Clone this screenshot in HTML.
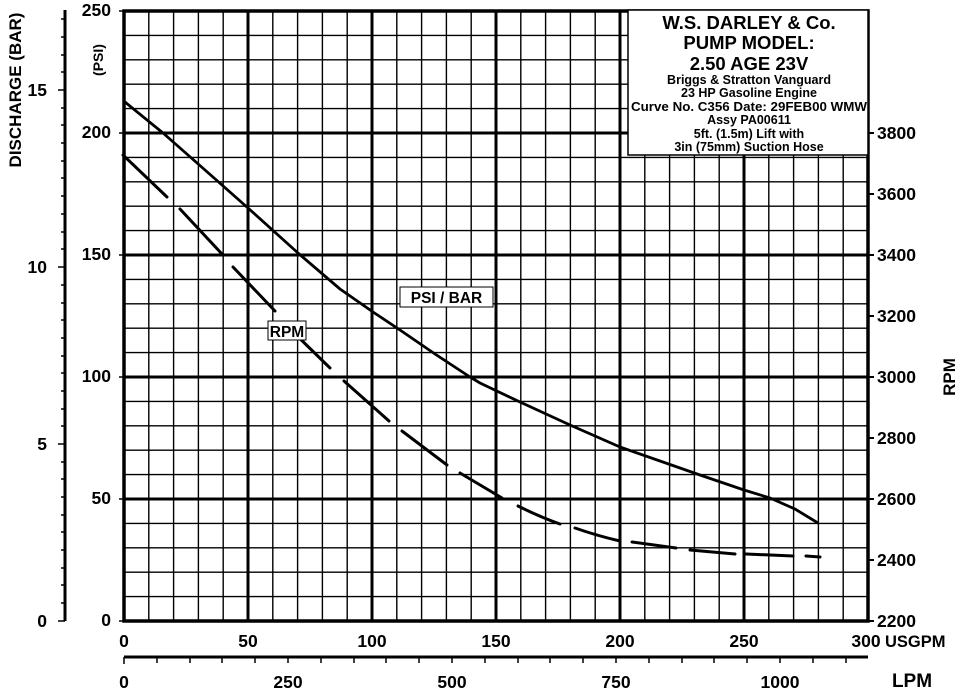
<!DOCTYPE html>
<html><head><meta charset="utf-8"><style>
html,body{margin:0;padding:0;background:#fff;}
svg{display:block;font-family:"Liberation Sans",Arial,sans-serif;font-weight:bold;}
</style></head><body>
<svg width="955" height="690" viewBox="0 0 955 690" xmlns="http://www.w3.org/2000/svg">
<rect width="955" height="690" fill="#fff"/>
<g stroke="#000">
<g stroke-width="1.4">
<path d="M148.8 11V621M173.6 11V621M198.4 11V621M223.2 11V621M272.8 11V621M297.6 11V621M322.4 11V621M347.2 11V621M396.8 11V621M421.6 11V621M446.4 11V621M471.2 11V621M520.8 11V621M545.6 11V621M570.4 11V621M595.2 11V621M644.8 11V621M669.6 11V621M694.4 11V621M719.2 11V621M768.8 11V621M793.6 11V621M818.4 11V621M843.2 11V621"/>
<path d="M124 35.4H868M124 59.8H868M124 84.2H868M124 108.6H868M124 157.4H868M124 181.8H868M124 206.2H868M124 230.6H868M124 279.4H868M124 303.8H868M124 328.2H868M124 352.6H868M124 401.4H868M124 425.8H868M124 450.2H868M124 474.6H868M124 523.4H868M124 547.8H868M124 572.2H868M124 596.6H868"/>
</g>
<g stroke-width="3">
<path d="M248 11V621M372 11V621M496 11V621M620 11V621M744 11V621"/>
<path d="M124 133H868M124 255H868M124 377H868M124 499H868"/>
</g>
<path d="M119 11H124M119 133H124M119 255H124M119 377H124M119 499H124M119 621H124" stroke-width="1.5"/>
<rect x="124" y="11" width="744" height="610" fill="none" stroke-width="3.5"/>
</g>
<!-- title box -->
<rect x="628" y="10" width="240" height="145" fill="#fff" stroke="#000" stroke-width="1.5"/>
<g text-anchor="middle" fill="#000">
<text x="749" y="29" font-size="18.5">W.S. DARLEY &amp; Co.</text>
<text x="749" y="49" font-size="18.5">PUMP MODEL:</text>
<text x="749" y="70" font-size="18.5">2.50 AGE 23V</text>
<text x="749" y="84" font-size="12.5">Briggs &amp; Stratton Vanguard</text>
<text x="749" y="97" font-size="12.5">23 HP Gasoline Engine</text>
<text x="749" y="111" font-size="12.5" textLength="236" lengthAdjust="spacingAndGlyphs">Curve No. C356 Date: 29FEB00 WMW</text>
<text x="749" y="124" font-size="12.5">Assy PA00611</text>
<text x="749" y="138" font-size="12.5">5ft. (1.5m) Lift with</text>
<text x="749" y="151" font-size="12.5">3in (75mm) Suction Hose</text>
</g>
<!-- curves -->
<path d="M125 102 L163 133 L205 170 L248 208 L298 253 L340 289 L373 312 L400 330 L435 354 L470 377 L480 383 L520 402 L570 425 L620 447 L660 461 L700 475 L744 490 L770 498 L795 509 L818 523" fill="none" stroke="#000" stroke-width="2.8" stroke-linejoin="round"/>
<g stroke="#000" stroke-width="3" stroke-linecap="round" fill="none">
<path d="M123 155L167 197"/>
<path d="M180 209L222 254"/>
<path d="M233 267L275 311"/>
<path d="M287 326L330 368"/>
<path d="M344 381L389 421"/>
<path d="M402 431L447 465"/>
<path d="M460 473Q480 485 502 498"/>
<path d="M518 506Q540 517 560 524"/>
<path d="M575 528Q598 536 620 541"/>
<path d="M632 542L676 548"/>
<path d="M690 550L735 554"/>
<path d="M746 554L793 556"/>
<path d="M806 556L820 557"/>
</g>
<rect x="400" y="287" width="93" height="20" fill="#fff" stroke="#000" stroke-width="1"/>
<text x="446.5" y="303" font-size="15.5" text-anchor="middle">PSI / BAR</text>
<rect x="268" y="321" width="38" height="19" fill="#fff" stroke="#000" stroke-width="1"/>
<text x="287" y="337" font-size="15.5" text-anchor="middle">RPM</text>
<!-- left PSI labels -->
<g font-size="17.5" text-anchor="end">
<text x="111" y="16">250</text>
<text x="111" y="138">200</text>
<text x="111" y="260">150</text>
<text x="111" y="382">100</text>
<text x="111" y="504">50</text>
<text x="111" y="626">0</text>
</g>
<text transform="translate(103,60) rotate(-90)" font-size="14" text-anchor="middle">(PSI)</text>
<!-- BAR axis -->
<path d="M65 10V621" stroke="#000" stroke-width="3"/>
<g stroke="#000" stroke-width="1.5">
<path d="M58 90H65M58 267H65M58 444H65M58 621H65"/>
<path d="M61 19H65M61 37H65M61 55H65M61 72H65M61 108H65M61 125H65M61 143H65M61 161H65M61 178H65M61 196H65M61 214H65M61 232H65M61 249H65M61 285H65M61 303H65M61 320H65M61 338H65M61 356H65M61 373H65M61 391H65M61 409H65M61 426H65M61 462H65M61 479H65M61 497H65M61 515H65M61 532H65M61 550H65M61 568H65M61 585H65M61 603H65"/>
</g>
<g font-size="17.5" text-anchor="end">
<text x="47" y="96">15</text>
<text x="47" y="273">10</text>
<text x="47" y="450">5</text>
<text x="47" y="627">0</text>
</g>
<text transform="translate(21,90) rotate(-90)" font-size="17" text-anchor="middle">DISCHARGE (BAR)</text>
<!-- RPM right axis -->
<g stroke="#000" stroke-width="2"><path d="M868 133H874M868 194H874M868 255H874M868 316H874M868 377H874M868 438H874M868 499H874M868 560H874M868 621H874"/></g>
<g font-size="17.5" text-anchor="start">
<text x="877" y="139">3800</text>
<text x="877" y="200">3600</text>
<text x="877" y="261">3400</text>
<text x="877" y="322">3200</text>
<text x="877" y="383">3000</text>
<text x="877" y="444">2800</text>
<text x="877" y="505">2600</text>
<text x="877" y="566">2400</text>
<text x="877" y="627">2200</text>
</g>
<text transform="translate(955,377) rotate(-90)" font-size="17" text-anchor="middle">RPM</text>
<!-- USGPM labels -->
<g font-size="17.5" text-anchor="middle">
<text x="124" y="647">0</text>
<text x="248" y="647">50</text>
<text x="372" y="647">100</text>
<text x="496" y="647">150</text>
<text x="620" y="647">200</text>
<text x="744" y="647">250</text>
<text x="866" y="647">300</text>
</g>
<text x="885" y="647" font-size="16.5">USGPM</text>
<!-- LPM axis -->
<path d="M124 657H868" stroke="#000" stroke-width="3"/>
<g stroke="#000" stroke-width="1.5">
<path d="M124 657V664M157 657V663M190 657V663M222 657V663M255 657V663M288 657V663M321 657V663M354 657V663M386 657V663M419 657V663M452 657V663M485 657V663M518 657V663M550 657V663M583 657V663M616 657V663M649 657V663M682 657V663M714 657V663M747 657V663M780 657V663M813 657V663M846 657V663"/>
</g>
<g font-size="17.5" text-anchor="middle">
<text x="124" y="688">0</text>
<text x="288" y="688">250</text>
<text x="452" y="688">500</text>
<text x="616" y="688">750</text>
<text x="780" y="688">1000</text>
</g>
<text x="912" y="687" font-size="19" text-anchor="middle">LPM</text>
</svg>
</body></html>
